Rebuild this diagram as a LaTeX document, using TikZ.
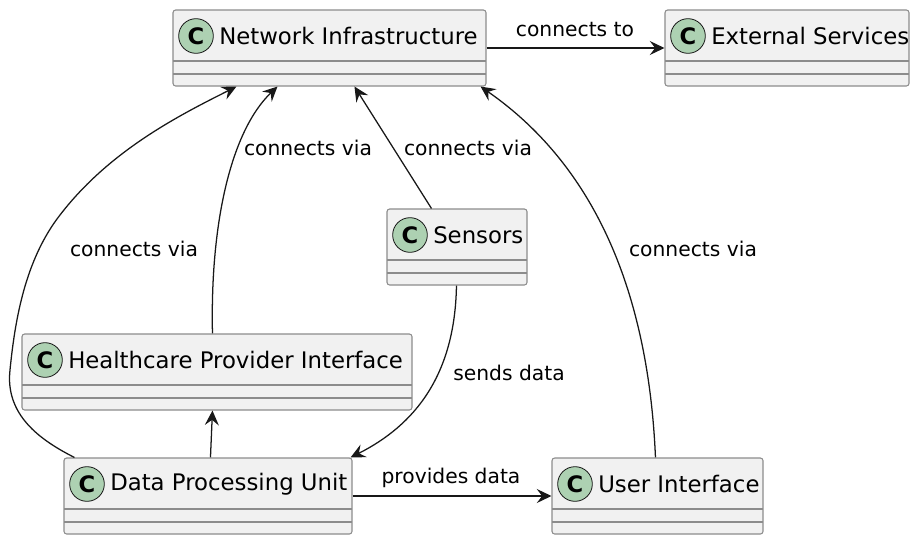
\documentclass[tikz,border=0pt]{standalone}
\usepackage{fontspec}
\setmainfont{DejaVu Sans}
\usepackage{tikz}
\usepackage{xcolor}
\usetikzlibrary{positioning,shapes,arrows.meta,calc,fit}
\definecolor{classfill}{RGB}{241,241,241}
\definecolor{classborder}{RGB}{140,140,140}
\definecolor{spotgreen}{RGB}{173,209,178}
\definecolor{linkdark}{RGB}{24,24,24}

\tikzset{
  classbox/.style={draw=classborder, fill=classfill, line width=0.8pt, rounded corners=2pt, inner sep=0pt},
  sepline/.style={draw=classborder, line width=0.8pt},
  spot/.style={circle, draw=linkdark, fill=spotgreen, line width=0.6pt, minimum size=26pt, inner sep=0pt, font=\fontsize{17}{17}\selectfont\bfseries},
  classname/.style={anchor=west, inner sep=0pt, font=\fontsize{17.1}{20}\selectfont},
  lbl/.style={inner sep=0pt, font=\fontsize{15.2}{18}\selectfont},
  conn/.style={draw=linkdark, line width=0.95pt, -{Stealth[length=11pt,width=10.5pt,inset=4pt]}}
}

\begin{document}
\begin{tikzpicture}[x=0.75pt, y=-0.75pt]
            \useasboundingbox (0,0) rectangle (914,536);

            % Class boxes: name / left / top / right / title
            \foreach \id/\xa/\ya/\xb/\ttl in {netinfra/173/10/486/Network Infrastructure, extserv/665/10/909/External Services, sensors/387/209/527/Sensors, hpi/22/334/412/Healthcare Provider Interface, dpu/64/458/352/Data Processing Unit, ui/552/458/763/User Interface} {
                \node[classbox, fit={(\xa,\ya) (\xb,\ya+76)}] (\id) {};
                \draw[sepline] (\xa,\ya+51) -- (\xb,\ya+51);
                \draw[sepline] (\xa,\ya+64) -- (\xb,\ya+64);
                \node[spot] (\id-spot) at (\xa+23,\ya+26) {C};
                \node[classname] (\id-name) at (\xa+46,\ya+26) {\ttl};
            }

            % Network to external services
            \draw[conn] (netinfra.east) -- (extserv.west);
            \node[lbl] (lblto) at (575,30) {connects to};

            % Data processing unit to network
            \draw[conn] ($(dpu.north west)+(11,0)$) .. controls (40,440) and (5,415) .. (10,370)
                .. controls (15,320) and (25,260) .. (60,215)
                .. controls (110,150) and (180,115) .. ($(netinfra.south west)+(64,0)$);
            \node[lbl] (lbldpu) at (134,249) {connects via};

            % Healthcare provider interface to network
            \draw[conn] ($(hpi.north west)+(191,0)$) .. controls (210,220) and (232,130) .. ($(netinfra.south west)+(105,0)$);
            \node[lbl] (lblhpi) at (308,148) {connects via};

            % Sensors to network
            \draw[conn] ($(sensors.north west)+(45,0)$) -- ($(netinfra.south west)+(182,0)$);
            \node[lbl] (lblsens) at (468,148) {connects via};

            % User interface to network
            \draw[conn] ($(ui.north west)+(104,0)$) .. controls (650,330) and (615,180) .. ($(netinfra.south east)+(-6,0)$);
            \node[lbl] (lblui) at (693,249) {connects via};

            % Sensors to data processing unit
            \draw[conn] ($(sensors.south west)+(70,0)$) .. controls (455,375) and (415,425) .. ($(dpu.north east)+(-2,0)$);
            \node[lbl] (lblsend) at (509,373) {sends data};

            % Data processing unit to interfaces
            \draw[conn] ($(dpu.north west)+(147,0)$) -- ($(hpi.south west)+(191,0)$);
            \draw[conn] (dpu.east) -- (ui.west);
            \node[lbl] (lblprov) at (451,478) {provides data};
        \end{tikzpicture}
\end{document}
